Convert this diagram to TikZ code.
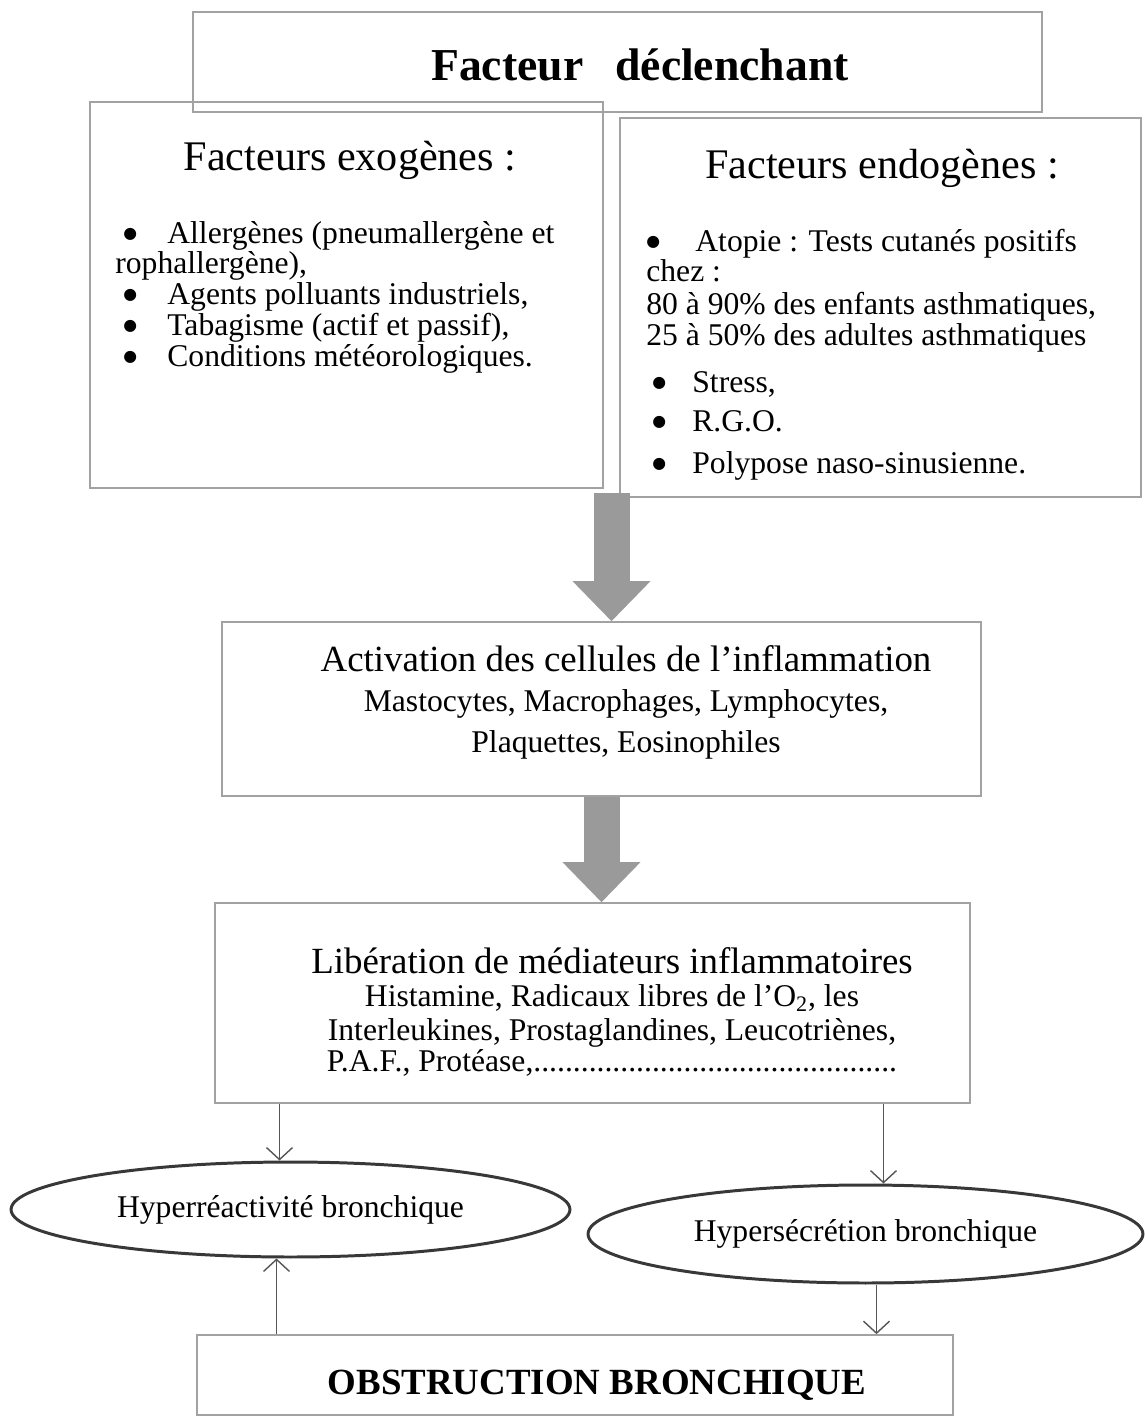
\documentclass[tikz,border=0pt]{standalone}
\usepackage{fontspec}
\setmainfont{Liberation Serif}
\newfontfamily\dotfont{DejaVu Sans}
\usetikzlibrary{arrows.meta,shapes.geometric,calc,positioning}
\definecolor{frameGray}{HTML}{A2A2A2}
\definecolor{arrowGray}{HTML}{9A9A9A}
\definecolor{inkDark}{HTML}{383838}
\newcommand{\bodysize}{\fontsize{18}{17.6}\selectfont}
\newcommand{\leadsize}{\fontsize{21}{23}\selectfont}
\newcommand{\listdot}[2]{\hspace*{#1}\makebox[#2][l]{\raisebox{3pt}{\dotfont\fontsize{9}{9}\selectfont ●}}}

\tikzset{
  scanbox/.style={draw=frameGray,line width=1pt,inner sep=0pt},
  oval/.style={ellipse,draw=inkDark,line width=1.7pt,inner sep=0pt,font=\bodysize},
  listtext/.style={align=left,inner sep=0pt,anchor=north west,font=\bodysize},
  fatarrow/.style={draw=arrowGray,line width=0.72cm,-{Triangle[width=1.56cm,length=0.8cm,line width=0pt]}},
  thinarrow/.style={draw=inkDark!85,line width=0.8pt,-{Straight Barb[length=0.24cm,width=0.52cm]}}
}

\begin{document}
\begin{tikzpicture}[x=0.02cm,y=-0.02cm]
\useasboundingbox (0,0) rectangle (1145,1428);

\node[scanbox,minimum width=16.98cm,minimum height=2.0cm] (trigger) at (617.5,62) {};
\node[font=\fontsize{26}{30}\selectfont\bfseries,anchor=base] (triggertext) at (640,80) {Facteur\hspace{0.7em}déclenchant};

\node[scanbox,minimum width=10.26cm,minimum height=7.72cm] (exogen) at (346.5,295) {};
\node[scanbox,minimum width=10.42cm,minimum height=7.58cm] (endogen) at (880.5,307.5) {};
\node[font=\fontsize{24}{28}\selectfont,anchor=base] (exohead) at (350,170) {Facteurs exogènes :};
\node[font=\fontsize{24}{28}\selectfont,anchor=base] (endohead) at (882,178) {Facteurs endogènes :};

\node[listtext] (exolist) at (115,221) {%
\listdot{4.6pt}{25pt}Allergènes (pneumallergène et\\[-0.6pt]
rophallergène),\\[0.4pt]
\listdot{4.6pt}{25pt}Agents polluants industriels,\\
\listdot{4.6pt}{25pt}Tabagisme (actif et passif),\\
\listdot{4.6pt}{25pt}Conditions météorologiques.};

\node[listtext] (endolist) at (646,229) {%
\listdot{0pt}{27.9pt}Atopie : Tests cutanés positifs\\[-0.5pt]
chez :\\[1.2pt]
80 à 90\% des enfants asthmatiques,\\
25 à 50\% des adultes asthmatiques\\[9pt]
\listdot{3.4pt}{22.8pt}Stress,\\[4.6pt]
\listdot{3.4pt}{22.8pt}R.G.O.\\[6.3pt]
\listdot{3.4pt}{22.8pt}Polypose naso-sinusienne.};

\node[scanbox,minimum width=15.18cm,minimum height=3.48cm] (activation) at (601.5,709) {};
\node[align=center,anchor=north,inner sep=0pt,font=\fontsize{18}{23}\selectfont] (activationtext) at (626,645) {%
{\leadsize Activation des cellules de l’inflammation}\\
Mastocytes, Macrophages, Lymphocytes,\\
Plaquettes, Eosinophiles};

\node[scanbox,minimum width=15.1cm,minimum height=4.0cm] (release) at (592.5,1003) {};
\node[align=center,anchor=north,inner sep=0pt,font=\fontsize{18}{19}\selectfont] (releasetext) at (612,947) {%
{\leadsize Libération de médiateurs inflammatoires}\\
Histamine, Radicaux libres de l’O\textsubscript{2}, les\\
Interleukines, Prostaglandines, Leucotriènes,\\[-1.2pt]
P.A.F., Protéase,..............................................};

\node[oval,minimum width=11.18cm,minimum height=1.9cm] (hyperR) at (290.5,1209.5) {Hyperréactivité bronchique};
\node[oval,minimum width=11.1cm,minimum height=1.96cm] (hyperS) at (865.5,1234) {Hypersécrétion bronchique};

\node[scanbox,minimum width=15.12cm,minimum height=1.6cm] (obstruction) at (575,1375) {};
\node[font=\fontsize{21}{24}\selectfont\bfseries,anchor=base] (obstructiontext) at (597,1394) {OBSTRUCTION BRONCHIQUE};

\coordinate (split) at ($(exogen.south east)!0.5!(endogen.south west)$);
\draw[fatarrow] (split) -- (split |- activation.north);
\draw[fatarrow] (activation.south) -- (activation.south |- release.north);

\coordinate (rTop) at ([xshift=-0.22cm]hyperR.north);
\coordinate (rBot) at ([xshift=-0.28cm]hyperR.south);
\coordinate (sTop) at ([xshift=0.36cm]hyperS.north);
\coordinate (sBot) at ([xshift=0.22cm]hyperS.south);
\draw[thinarrow] (release.south -| rTop) -- (rTop);
\draw[thinarrow] (release.south -| sTop) -- (sTop);
\draw[thinarrow] (obstruction.north -| rBot) -- (rBot);
\draw[thinarrow] (sBot) -- (sBot |- obstruction.north);
\end{tikzpicture}
\end{document}
